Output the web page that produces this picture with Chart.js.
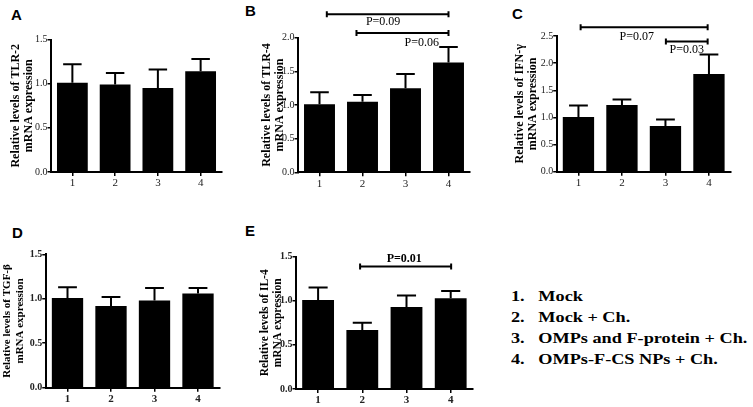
<!DOCTYPE html>
<html>
<head>
<meta charset="utf-8">
<script src="https://cdn.jsdelivr.net/npm/chart.js@4.4.1/dist/chart.umd.min.js"></script>
<style>
body{margin:0;background:#fff;width:753px;height:407px;position:relative;overflow:hidden}
canvas{position:absolute}
.tag{position:absolute;font:bold 15px "Liberation Sans",Arial,sans-serif;line-height:15px;color:#000}
.key{position:absolute;left:511px;top:286px;font:bold 15px "Liberation Serif","Times New Roman",serif;line-height:21px;color:#000;white-space:nowrap;transform:scaleX(1.215);transform-origin:0 0}
.key span{display:inline-block;width:22.5px}
</style>
</head>
<body>
<div class="tag" style="left:11px;top:7px">A</div>
<div class="tag" style="left:245px;top:3px">B</div>
<div class="tag" style="left:512px;top:6px">C</div>
<div class="tag" style="left:12px;top:225px">D</div>
<div class="tag" style="left:245px;top:223px">E</div>

<canvas id="chartA" width="240" height="195" style="left:0;top:0"></canvas>
<canvas id="chartB" width="240" height="195" style="left:246px;top:0"></canvas>
<canvas id="chartC" width="250" height="195" style="left:503px;top:0"></canvas>
<canvas id="chartD" width="240" height="197" style="left:0;top:210px"></canvas>
<canvas id="chartE" width="240" height="197" style="left:246px;top:210px"></canvas>

<div class="key">
  <div><span>1.</span>Mock</div>
  <div><span>2.</span>Mock + Ch.</div>
  <div><span>3.</span>OMPs and F-protein + Ch.</div>
  <div><span>4.</span>OMPs-F-CS NPs + Ch.</div>
</div>

<script>
// nhóm
const groups = ["1", "2", "3", "4"];

// giá trị trung bình + sai số
const tlr2Mean = [1.01, 0.99, 0.95, 1.14];
const tlr2Err  = [0.21, 0.13, 0.21, 0.14];
const tlr4Mean = [1.01, 1.05, 1.25, 1.63];
const tlr4Err  = [0.18, 0.10, 0.21, 0.23];
const ifngMean = [1.01, 1.23, 0.84, 1.80];
const ifngErr  = [0.21, 0.10, 0.12, 0.36];
const tgfbMean = [1.01, 0.92, 0.98, 1.06];
const tgfbErr  = [0.12, 0.10, 0.14, 0.06];
const il4Mean  = [1.01, 0.67, 0.93, 1.03];
const il4Err   = [0.14, 0.08, 0.13, 0.08];

// tick trục y
const ticks15 = [0, 0.5, 1.0, 1.5];
const ticks20 = [0, 0.5, 1.0, 1.5, 2.0];
const ticks25 = [0, 0.5, 1.0, 1.5, 2.0, 2.5];

// dấu so sánh: from/to = chỉ số nhóm, y = giá trị
const tlr4Brackets = [
    { from: 0.17, to: 3.0, y: 2.35, text: "P=0.09", tx: 1.48, ty: 2.23 },
    { from: 0.86, to: 3.0, y: 2.07, text: "P=0.06", tx: 2.38, ty: 1.92 },
];
const ifngBrackets = [
    { from: 0.05, to: 2.97, y: 2.66, text: "P=0.07", tx: 1.34, ty: 2.48 },
    { from: 2.01, to: 2.97, y: 2.40, text: "P=0.03", tx: 2.49, ty: 2.25 },
];
const il4Brackets = [
    { from: 0.95, to: 3.01, y: 1.39, text: "P=0.01", tx: 1.95, ty: 1.48 },
];

const SERIF = '"Liberation Serif", "Times New Roman", serif';

// vẽ thanh sai số + dấu so sánh
const extrasPlugin = {
    id: "extras",
    afterDraw(chart) {
        const ctx = chart.ctx;
        const x = chart.scales.x, y = chart.scales.y;
        const o = chart.options.plugins.extras;
        ctx.save();
        ctx.strokeStyle = "#000";
        ctx.lineWidth = 2;
        chart.getDatasetMeta(0).data.forEach((bar, i) => {
            const top = y.getPixelForValue(o.means[i] + o.errs[i]);
            const half = bar.width * 0.3;
            ctx.beginPath();
            ctx.moveTo(bar.x, bar.y);
            ctx.lineTo(bar.x, top);
            ctx.moveTo(bar.x - half, top);
            ctx.lineTo(bar.x + half, top);
            ctx.stroke();
        });
        ctx.fillStyle = "#000";
        ctx.font = (o.bold ? "bold " : "") + "12px " + SERIF;
        ctx.textAlign = "center";
        ctx.textBaseline = "middle";
        (o.brackets || []).forEach(b => {
            const x1 = x.getPixelForValue(b.from), x2 = x.getPixelForValue(b.to);
            const yy = y.getPixelForValue(b.y);
            ctx.beginPath();
            ctx.moveTo(x1, yy); ctx.lineTo(x2, yy);
            ctx.moveTo(x1, yy - 3); ctx.lineTo(x1, yy + 3);
            ctx.moveTo(x2, yy - 3); ctx.lineTo(x2, yy + 3);
            ctx.stroke();
            ctx.fillText(b.text, x.getPixelForValue(b.tx), y.getPixelForValue(b.ty));
        });
        ctx.restore();
    }
};

function makePanel(id, p) {
    const w = p.bold ? "bold" : "normal";
    new Chart(document.getElementById(id), {
        type: "bar",
        data: {
            labels: groups,
            datasets: [{ data: p.means, backgroundColor: "#000", borderWidth: 0,
                         barPercentage: 0.72, categoryPercentage: 1 }]
        },
        plugins: [extrasPlugin],
        options: {
            responsive: false,
            animation: false,
            layout: { padding: { top: p.padTop, right: p.padRight, left: 0, bottom: 0 } },
            plugins: {
                legend: { display: false },
                tooltip: { enabled: false },
                extras: { means: p.means, errs: p.errs, brackets: p.brackets, bold: p.bold }
            },
            scales: {
                x: {
                    grid: { display: true, drawOnChartArea: false, offset: false, tickLength: 4, color: "#000", lineWidth: 1.5 },
                    border: { display: true, color: "#000", width: 2 },
                    ticks: { color: "#222", font: { family: SERIF, size: 11, weight: w }, padding: 1 },
                    afterFit: s => { s.height = p.xH; }
                },
                y: {
                    min: 0,
                    max: p.ticks[p.ticks.length - 1],
                    afterBuildTicks: s => { s.ticks = p.ticks.map(v => ({ value: v })); },
                    grid: { display: true, drawOnChartArea: false, tickLength: 3.5, color: "#000", lineWidth: 1.5 },
                    border: { display: true, color: "#000", width: 2 },
                    ticks: { color: "#222", font: { family: SERIF, size: 10, weight: w }, padding: 0,
                             callback: v => Number(v).toFixed(1) },
                    title: {
                        display: true,
                        text: [p.title, "mRNA expression"],
                        color: "#000",
                        font: { family: SERIF, size: p.titleSize, weight: "bold", lineHeight: 13.2 / p.titleSize },
                        padding: { top: p.titlePad, bottom: 0 }
                    },
                    afterFit: s => { s.width = p.yW; }
                }
            }
        }
    });
}

makePanel("chartA", { means: tlr2Mean, errs: tlr2Err, ticks: ticks15, title: "Relative levels of TLR-2",
    padTop: 39.5, padRight: 18, xH: 23, yW: 51, titlePad: 9.5, titleSize: 12 });
makePanel("chartB", { means: tlr4Mean, errs: tlr4Err, ticks: ticks20, title: "Relative levels of TLR-4",
    brackets: tlr4Brackets, padTop: 37.7, padRight: 16, xH: 22.7, yW: 52, titlePad: 14, titleSize: 12 });
makePanel("chartC", { means: ifngMean, errs: ifngErr, ticks: ticks25, title: "Relative levels of IFN-γ",
    brackets: ifngBrackets, padTop: 36, padRight: 22.3, xH: 23.3, yW: 53.7, titlePad: 10.4, titleSize: 12 });
makePanel("chartD", { means: tgfbMean, errs: tgfbErr, ticks: ticks15, title: "Relative levels of TGF-β",
    padTop: 44.3, padRight: 20.25, xH: 19.3, yW: 45.75, titlePad: 0.7, titleSize: 11, bold: true });
makePanel("chartE", { means: il4Mean, errs: il4Err, ticks: ticks15, title: "Relative levels of IL-4",
    brackets: il4Brackets, padTop: 46.7, padRight: 13.2, xH: 18, yW: 50, titlePad: 12.4, titleSize: 11.5, bold: true });
</script>
</body>
</html>
